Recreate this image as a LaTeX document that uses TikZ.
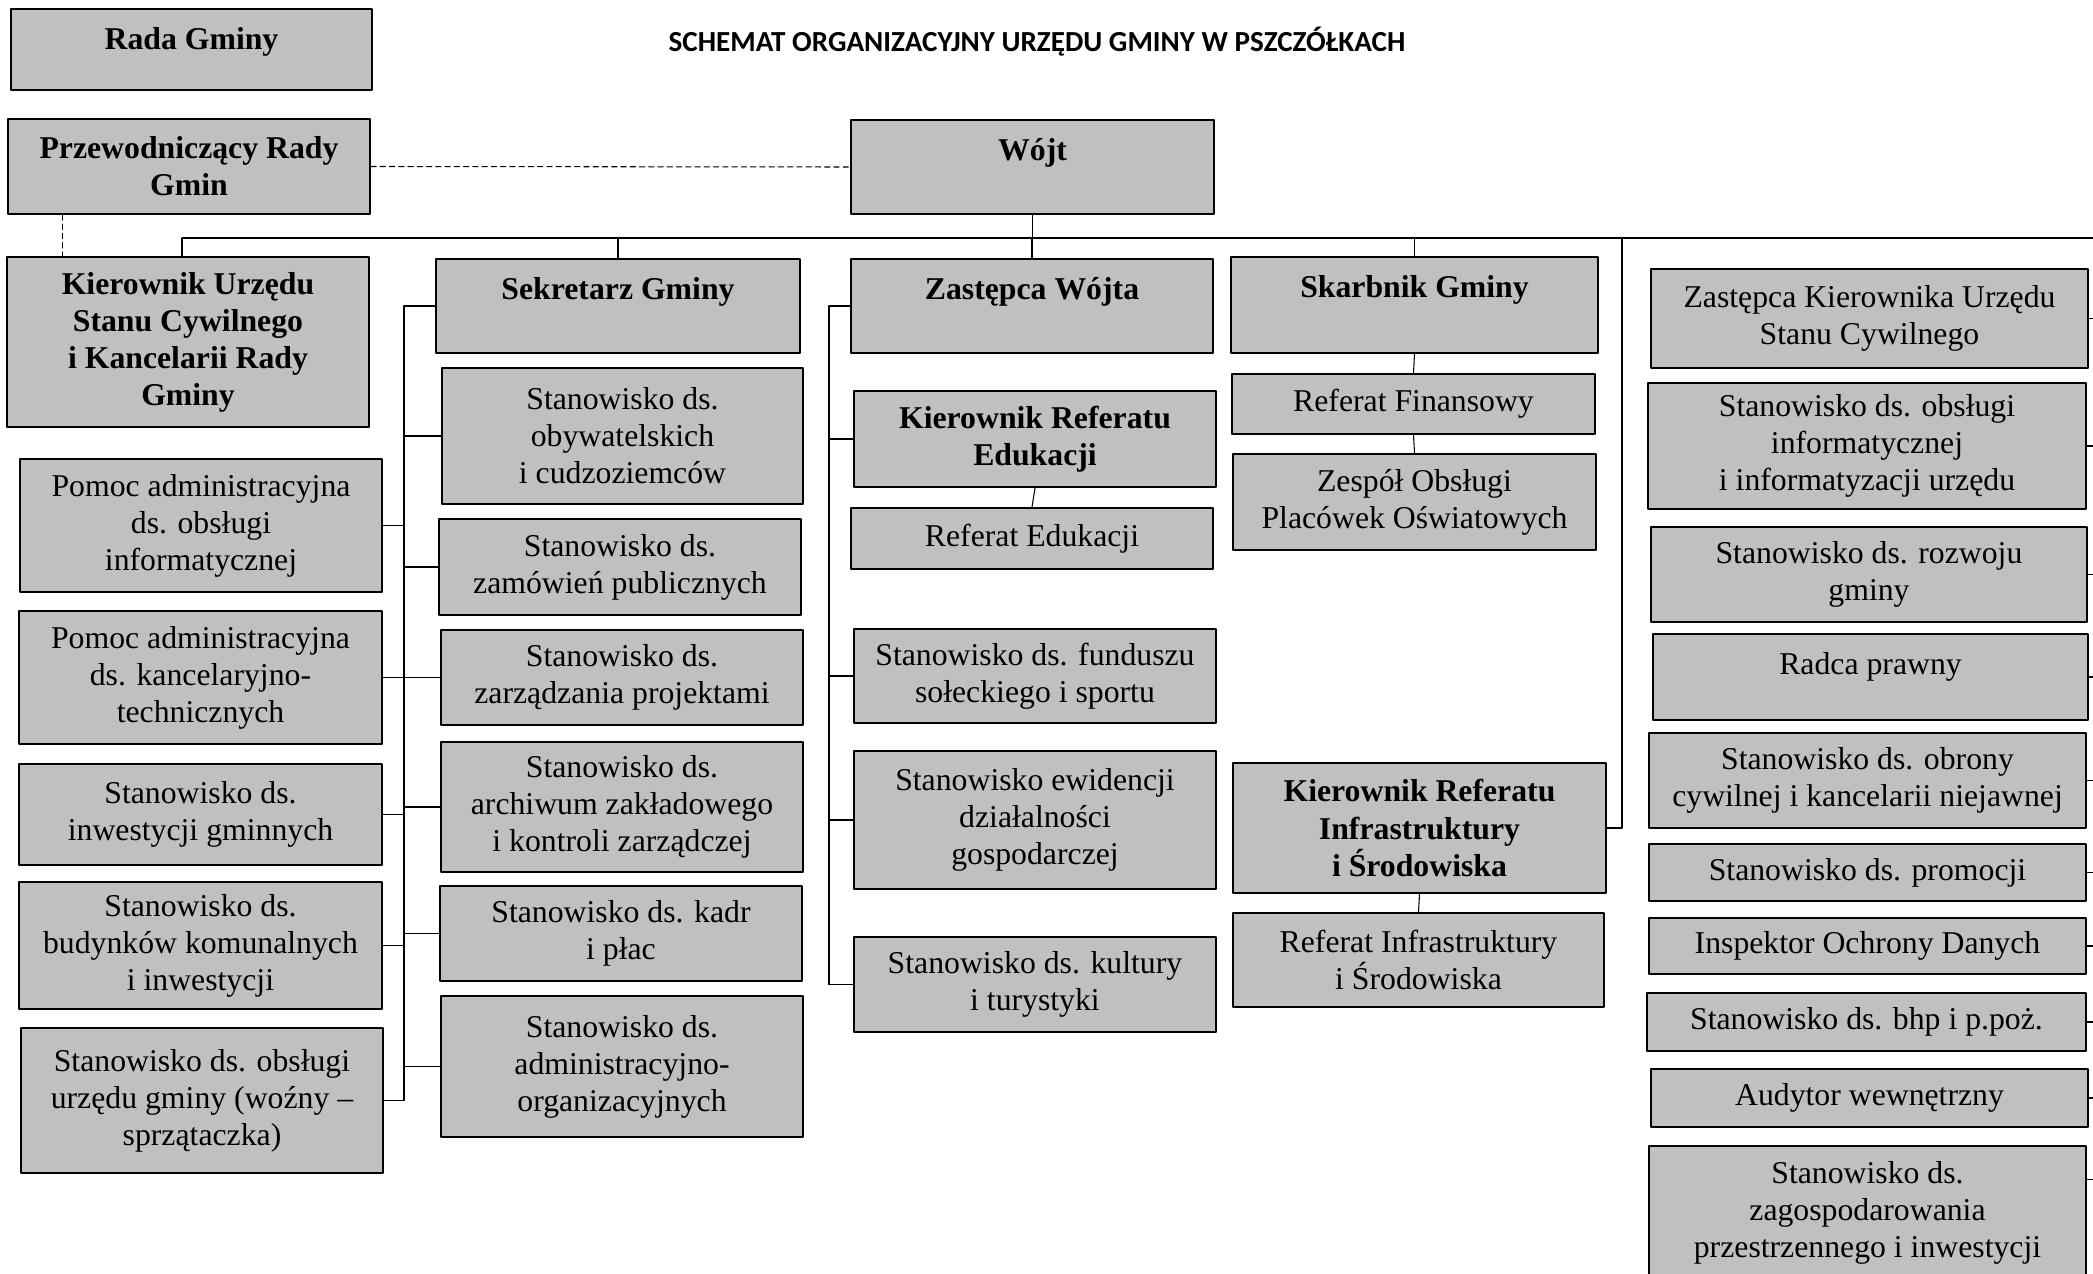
\documentclass[tikz,border=0pt]{standalone}
\usepackage{fontspec}
\setmainfont{Liberation Serif}
\newfontfamily\titlefont{Carlito}
\usetikzlibrary{calc}
\definecolor{boxgray}{RGB}{192,192,192}
\tikzset{
  box/.style={draw, line width=0.7pt, fill=boxgray, inner sep=0pt, align=center, font=\fontsize{12}{14}\selectfont},
  bbox/.style={box, font=\fontsize{12}{14}\selectfont\bfseries},
  span/.style args={#1/#2/#3/#4}{minimum width={(#3-#1)*0.378pt}, minimum height={(#4-#2)*0.378pt}, at={({(#1+#3)/2},{(#2+#4)/2})}},
  toptext/.style={anchor=base, yshift=-15.5pt, inner sep=0pt, align=center, font=\fontsize{12}{14}\selectfont\bfseries},
  toptextn/.style={toptext, font=\fontsize{12}{14}\selectfont},
  link/.style={line width=0.4pt},
  dlink/.style={line width=0.4pt, dash pattern=on 2pt off 1.5pt},
}
\begin{document}
\begin{tikzpicture}[x=0.378pt, y=-0.378pt, line join=round, line cap=round]
\useasboundingbox (0,0) rectangle (2093,1274);
\clip (0,0) rectangle (2093,1274);
\node[font={\titlefont\fontsize{11}{13}\selectfont\bfseries}] (title) at (1037,42) {SCHEMAT ORGANIZACYJNY URZĘDU GMINY W PSZCZÓŁKACH};
% najwyzszy poziom
\node[bbox, span=11/9/372/90, label={[toptext]north:Rada Gminy}] (rada) {};
\node[bbox, span=8/119/370/214] (przew) {Przewodniczący Rady\\Gmin};
\node[bbox, span=851/120/1214/214, label={[toptext]north:Wójt}] (wojt) {};
% kierownictwo
\node[bbox, span=7/257/369/427] (kusc) {Kierownik Urzędu\\Stanu Cywilnego\\i Kancelarii Rady\\Gminy};
\node[bbox, span=436/259/800/353, label={[toptext]north:Sekretarz Gminy}] (sekr) {};
\node[bbox, span=851/259/1213/353, label={[toptext]north:Zastępca Wójta}] (zast) {};
\node[bbox, span=1231/257/1598/353, label={[toptext]north:Skarbnik Gminy}] (skarb) {};
% kolumna lewa
\node[box, span=20/459/382/592] (pomoc1) {Pomoc administracyjna\\ds. obsługi\\informatycznej};
\node[box, span=19/611/382/744] (pomoc2) {Pomoc administracyjna\\ds. kancelaryjno-\\technicznych};
\node[box, span=19/764/382/865] (inwest) {Stanowisko ds.\\inwestycji gminnych};
\node[box, span=19/882/382/1009] (budynki) {Stanowisko ds.\\budynków komunalnych\\i inwestycji};
\node[box, span=21/1028/383/1173] (obsl) {Stanowisko ds. obsługi\\urzędu gminy (woźny –\\sprzątaczka)};
% kolumna sekretarza
\node[box, span=442/368/803/504] (obyw) {Stanowisko ds.\\obywatelskich\\i cudzoziemców};
\node[box, span=439/519/801/615] (zamow) {Stanowisko ds.\\zamówień publicznych};
\node[box, span=441/630/803/725] (projekty) {Stanowisko ds.\\zarządzania projektami};
\node[box, span=441/742/803/872] (archiwum) {Stanowisko ds.\\archiwum zakładowego\\i kontroli zarządczej};
\node[box, span=440/886/802/981] (kadry) {Stanowisko ds. kadr\\i płac};
\node[box, span=441/996/803/1137] (admin) {Stanowisko ds.\\administracyjno-\\organizacyjnych};
% kolumna zastepcy
\node[bbox, span=854/391/1216/487] (kre) {Kierownik Referatu\\Edukacji};
\node[box, span=851/508/1213/569] (refed) {Referat Edukacji};
\node[box, span=854/629/1216/723] (fund) {Stanowisko ds. funduszu\\sołeckiego i sportu};
\node[box, span=854/751/1216/889] (ewid) {Stanowisko ewidencji\\działalności\\gospodarczej};
\node[box, span=854/937/1216/1032] (kult) {Stanowisko ds. kultury\\i turystyki};
% kolumna skarbnika
\node[box, span=1232/374/1595/434] (finans) {Referat Finansowy};
\node[box, span=1233/454/1596/550] (zespol) {Zespół Obsługi\\Placówek Oświatowych};
\node[bbox, span=1233/763/1606/893] (kri) {Kierownik Referatu\\Infrastruktury\\i Środowiska};
\node[box, span=1233/913/1604/1007] (refinfra) {Referat Infrastruktury\\i Środowiska};
% kolumna prawa
\node[box, span=1651/269/2088/368] (zkusc) {Zastępca Kierownika Urzędu\\Stanu Cywilnego};
\node[box, span=1648/383/2086/509] (inf) {Stanowisko ds. obsługi\\informatycznej\\i informatyzacji urzędu};
\node[box, span=1651/527/2087/622] (rozw) {Stanowisko ds. rozwoju\\gminy};
\node[box, span=1653/634/2088/720, label={[toptextn]north:Radca prawny}] (radca) {};
\node[box, span=1649/733/2086/828] (obrona) {Stanowisko ds. obrony\\cywilnej i kancelarii niejawnej};
\node[box, span=1649/844/2086/901] (promocja) {Stanowisko ds. promocji};
\node[box, span=1649/918/2086/974] (iod) {Inspektor Ochrony Danych};
\node[box, span=1647/993/2086/1051] (bhp) {Stanowisko ds. bhp i p.poż.};
\node[box, span=1651/1069/2088/1127] (audytor) {Audytor wewnętrzny};
\node[box, span=1649/1146/2086/1280] (zagosp) {Stanowisko ds.\\zagospodarowania\\przestrzennego i inwestycji};
% polaczenia
\coordinate (busL) at (182,238);
\coordinate (rbus) at (2093,238);
\coordinate (idrop) at (1622,238);
\coordinate (sb) at (404,0);
\coordinate (zb) at (829,0);
\coordinate (dash) at ($(przew.south west)+(55,0)$);
\draw[dlink] (przew.east) -- (wojt.west);
\draw[dlink] (dash) -- (dash |- kusc.north);
\draw[link] (wojt.south) -- (wojt.south |- busL);
\draw[link] (busL) -- (rbus);
\draw[link] (busL) -- (busL |- kusc.north);
\foreach \n in {sekr,zast,skarb}
  \draw[link] (\n.north) -- (\n.north |- busL);
\draw[link] (idrop) |- (kri.east);
\draw[link] (sekr.west) -| (sb |- obsl.east);
\foreach \n in {pomoc1,pomoc2,inwest,budynki,obsl}
  \draw[link] (\n.east) -- (\n.east -| sb);
\foreach \n in {obyw,zamow,projekty,archiwum,kadry,admin}
  \draw[link] (\n.west) -- (\n.west -| sb);
\draw[link] (zast.west) -| (zb |- kult.west);
\foreach \n in {kre,fund,ewid,kult}
  \draw[link] (\n.west) -- (\n.west -| zb);
\draw[link] (kre.south) -- (refed.north);
\draw[link] (skarb.south) -- (finans.north);
\draw[link] (finans.south) -- (zespol.north);
\draw[link] (kri.south) -- (refinfra.north);
\foreach \n in {zkusc,inf,rozw,radca,obrona,promocja,iod,bhp,audytor}
  \draw[link] (\n.east) -- (\n.east -| rbus);
\coordinate (zt) at ($(zagosp.north east)+(0,34)$);
\draw[link] (zt) -- (zt -| rbus);
\end{tikzpicture}
\end{document}
